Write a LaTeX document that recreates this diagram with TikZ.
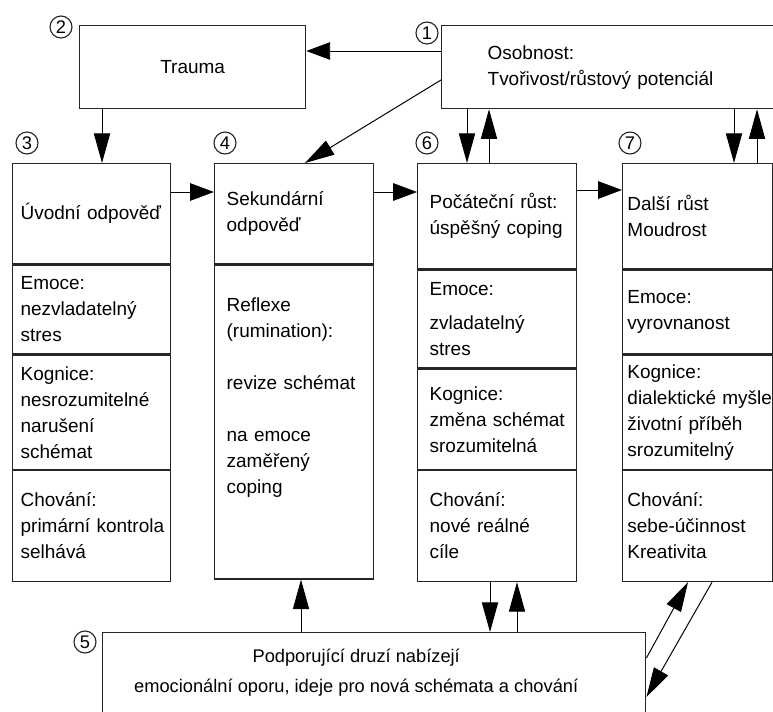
\documentclass[tikz,border=0pt]{standalone}
\usepackage{fontspec}
\setmainfont{Liberation Sans}
\usetikzlibrary{arrows.meta, positioning, calc}

\begin{document}
\begin{tikzpicture}[
    x=0.025cm, y=-0.025cm,
    every node/.style={font=\fontsize{13.5}{18.5}\selectfont},
    box/.style={
        rectangle,
        draw=black!85,
        line width=0.9pt,
        inner ysep=0pt
    },
    cell/.style={
        box,
        anchor=north west,
        align=left
    },
    colA/.style={cell, inner xsep=0.2cm, minimum width=3.95cm, text width=3.55cm},
    colB/.style={cell, inner xsep=0.3cm, minimum width=3.975cm, text width=3.375cm},
    colC/.style={cell, inner xsep=0.3cm, minimum width=3.975cm, text width=3.375cm},
    colD/.style={cell, inner xsep=0.12cm, minimum width=3.75cm, text width=3.51cm},
    num/.style={
        circle,
        draw=black!85,
        line width=0.8pt,
        inner sep=0pt,
        minimum size=0.55cm,
        font=\fontsize{13}{13}\selectfont
    },
    harr/.style={
        -{Triangle[length=17pt, width=12.5pt]},
        line width=0.7pt
    },
    varr/.style={
        -{Triangle[length=21pt, width=11.5pt]},
        line width=0.7pt
    }
]
\useasboundingbox (0,0) rectangle (773,711);
\fill[white] (0,0) rectangle (773,711);
\clip (0,0) rectangle (773,711);

% top row
\node[box, anchor=north west, minimum width=5.65cm, minimum height=2.075cm] (trauma) at (79,25) {Trauma};
\node[box, anchor=north west, align=left, inner xsep=1.15cm, minimum width=8.5cm, text width=6.2cm, minimum height=2.075cm] (osob) at (441,25) {Osobnost:\\Tvořivost/růstový potenciál};

% columns
\node[colA, minimum height=2.5cm] (c3a) at (12,163) {Úvodní odpověď};
\node[colA, minimum height=2.225cm] (c3b) at (c3a.south west) {Emoce:\\nezvladatelný\\stres};
\node[colA, minimum height=2.85cm] (c3c) at (c3b.south west) {Kognice:\\\mbox{nesrozumitelné}\\narušení\\schémat};
\node[colA, minimum height=2.775cm] (c3d) at (c3c.south west) {Chování:\\\mbox{primární kontrola}\\selhává};

\node[colB, minimum height=2.5cm] (c4a) at (214,163) {Sekundární\\odpověď};
\node[colB, minimum height=7.85cm] (c4b) at (c4a.south west) {Reflexe\\(rumination):\\[18.5pt]revize schémat\\[18.5pt]na emoce\\zaměřený\\coping\\ \mbox{}\\ \mbox{}};

\node[colC, minimum height=2.625cm] (c6a) at (417,163) {Počáteční růst:\\\mbox{úspěšný coping}};
\node[colC, minimum height=2.45cm] (c6b) at (c6a.south west) {Emoce:\\[6pt]zvladatelný\\stres};
\node[colC, minimum height=2.5cm] (c6c) at (c6b.south west) {Kognice:\\\mbox{změna schémat}\\srozumitelná};
\node[colC, minimum height=2.775cm] (c6d) at (c6c.south west) {Chování:\\nové reálné\\cíle};

\node[colD, minimum height=2.625cm] (c7a) at (622,163) {Další růst\\Moudrost};
\node[colD, minimum height=2.1cm] (c7b) at (c7a.south west) {Emoce:\\vyrovnanost};
\node[colD, minimum height=2.85cm] (c7c) at (c7b.south west) {Kognice:\\\mbox{dialektické myšlení}\\životní příběh\\srozumitelný};
\node[colD, minimum height=2.775cm] (c7d) at (c7c.south west) {Chování:\\sebe-účinnost\\Kreativita};

% bottom
\node[box, anchor=north west, minimum width=13.575cm, minimum height=2cm] (support) at (102,632) {};
\node[align=center, inner sep=0pt, font=\fontsize{13}{18}\selectfont] (supporttext) at ($(support.center)+(-18,0)$) {Podporující druzí nabízejí\\[3pt]emocionální oporu, ideje pro nová schémata a chování};

% numbers
\node[num] (n1) at ($(osob.north west)+(-14,8)$) {1};
\node[num] (n2) at ($(trauma.north west)+(-18,2)$) {2};
\node[num] (n3) at ($(c3a.north west)+(15,-20)$) {3};
\node[num] (n4) at ($(c4a.north west)+(11,-20)$) {4};
\node[num] (n5) at ($(support.north west)+(-17,10)$) {5};
\node[num] (n6) at ($(c6a.north west)+(10,-20)$) {6};
\node[num] (n7) at ($(c7a.north west)+(8,-20)$) {7};

% connectors
\coordinate (o1) at ($(osob.north west)+(0,26)$);
\coordinate (o2) at ($(osob.north west)+(0,55)$);
\draw[harr] (o1) -- (o1 -| trauma.east);
\draw[varr] (o2) -- ($(c4a.north west)+(91,0)$);
\coordinate (t1) at ($(trauma.south west)+(23,0)$);
\draw[varr] (t1) -- (t1 |- c3a.north);

\coordinate (h3) at ($(c3a.north east)+(0,29)$);
\coordinate (h4) at ($(c4a.north east)+(0,29)$);
\coordinate (h6) at ($(c6a.north east)+(0,27)$);
\draw[harr] (h3) -- (h3 -| c4a.west);
\draw[harr] (h4) -- (h4 -| c6a.west);
\draw[harr] (h6) -- (h6 -| c7a.west);

\coordinate (d6) at ($(c6a.north west)+(50,0)$);
\coordinate (u6) at ($(c6a.north west)+(72,0)$);
\coordinate (d7) at ($(c7a.north west)+(112,0)$);
\coordinate (u7) at ($(c7a.north west)+(135,0)$);
\draw[varr] (d6 |- osob.south) -- (d6);
\draw[varr] (u6) -- (u6 |- osob.south);
\draw[varr] (d7 |- osob.south) -- (d7);
\draw[varr] (u7) -- (u7 |- osob.south);

\coordinate (s4) at ($(c4b.south west)+(87,0)$);
\draw[varr] (s4 |- support.north) -- (s4);
\coordinate (s6d) at ($(c6d.south west)+(73,0)$);
\coordinate (s6u) at ($(c6d.south west)+(100,0)$);
\draw[varr] (s6d) -- (s6d |- support.north);
\draw[varr] (s6u |- support.north) -- (s6u);

\draw[varr] ($(support.north east)+(0,26)$) -- ($(c7d.south west)+(66,0)$);
\draw[varr] ($(c7d.south west)+(90,0)$) -- ($(support.north east)+(0,65)$);
\end{tikzpicture}
\end{document}
